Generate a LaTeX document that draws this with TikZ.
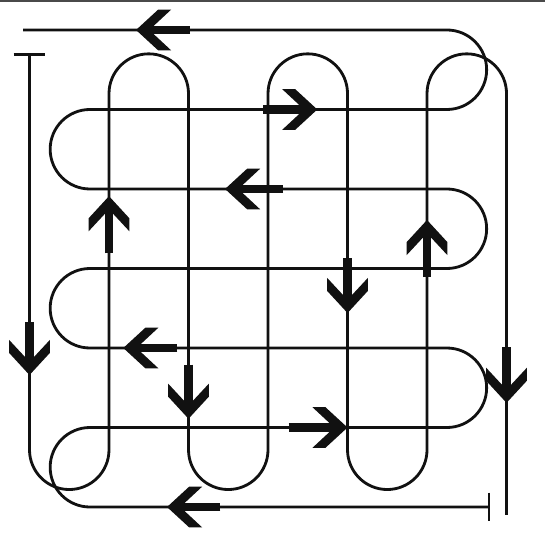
\documentclass[tikz,border=0pt]{standalone}
\usepackage{tikz}
\usetikzlibrary{arrows.meta}
\definecolor{Ink}      {HTML}{111111}
\definecolor{FrameGrey}{HTML}{4A4A4A}
% blunt chevron head
\pgfdeclarearrow{
  name = Chevron,
  setup code = {
    \pgfarrowssettipend{0pt}
    \pgfarrowssetlineend{-4.5pt}
    \pgfarrowssetbackend{-10pt}
    \pgfarrowshullpoint{0pt}{0pt}
    \pgfarrowshullpoint{-10pt}{5.8pt}
    \pgfarrowshullpoint{-10pt}{-5.8pt}
  },
  drawing code = {
    \pgfpathmoveto{\pgfpointorigin}
    \pgfpathlineto{\pgfpoint{-6.3pt}{5.8pt}}
    \pgfpathlineto{\pgfpoint{-10pt}{5.8pt}}
    \pgfpathlineto{\pgfpoint{-5pt}{1.15pt}}
    \pgfpathlineto{\pgfpoint{-5pt}{-1.15pt}}
    \pgfpathlineto{\pgfpoint{-10pt}{-5.8pt}}
    \pgfpathlineto{\pgfpoint{-6.3pt}{-5.8pt}}
    \pgfpathclose
    \pgfusepathqfill
  }
}
\tikzset{
  flow arrow/.style={-{Chevron}, line width=2.3pt},
  trace line/.style={line width=0.8pt},
}

\begin{document}
\begin{tikzpicture}[x=0.795cm, y=0.795cm, Ink]
  \useasboundingbox (-0.371,0.377) rectangle (6.484,-6.465);
  % Frame edge
  \draw[FrameGrey, line width=0.6pt] (-0.371,0.364) -- (6.484,0.364);
  % Vertical serpentine
  \draw[trace line] (0,-0.31) -- (0,-5.28) arc[start angle=180, end angle=360, radius=0.5]
    -- (1,-0.8) arc[start angle=180, end angle=0, radius=0.5]
    -- (2,-5.28) arc[start angle=180, end angle=360, radius=0.5]
    -- (3,-0.8) arc[start angle=180, end angle=0, radius=0.5]
    -- (4,-5.28) arc[start angle=180, end angle=360, radius=0.5]
    -- (5,-0.8) arc[start angle=180, end angle=0, radius=0.5]
    -- (6,-6.1);
  % Horizontal serpentine
  \draw[trace line] (-0.08,0) -- (5.25,0) arc[start angle=90, end angle=-90, radius=0.5]
    -- (0.76,-1) arc[start angle=90, end angle=270, radius=0.5]
    -- (5.25,-2) arc[start angle=90, end angle=-90, radius=0.5]
    -- (0.76,-3) arc[start angle=90, end angle=270, radius=0.5]
    -- (5.25,-4) arc[start angle=90, end angle=-90, radius=0.5]
    -- (0.76,-5) arc[start angle=90, end angle=270, radius=0.5]
    -- (5.78,-6);
  % End bars
  \draw[trace line] (-0.2,-0.31) -- (0.2,-0.31);
  \draw[trace line] (5.78,-5.82) -- (5.78,-6.17);
  % Direction arrows (rows)
  \draw[flow arrow] (2.02,0)  -- (1.34,0);
  \draw[flow arrow] (2.94,-1) -- (3.62,-1);
  \draw[flow arrow] (3.19,-2) -- (2.46,-2);
  \draw[flow arrow] (1.86,-4) -- (1.18,-4);
  \draw[flow arrow] (3.26,-5) -- (4.0,-5);
  \draw[flow arrow] (2.4,-6)  -- (1.73,-6);
  % Direction arrows (columns)
  \draw[flow arrow] (0,-3.67) -- (0,-4.34);
  \draw[flow arrow] (1,-2.81) -- (1,-2.09);
  \draw[flow arrow] (2,-4.21) -- (2,-4.89);
  \draw[flow arrow] (4,-2.87) -- (4,-3.56);
  \draw[flow arrow] (5,-3.11) -- (5,-2.39);
  \draw[flow arrow] (6,-3.99) -- (6,-4.69);
\end{tikzpicture}
\end{document}
